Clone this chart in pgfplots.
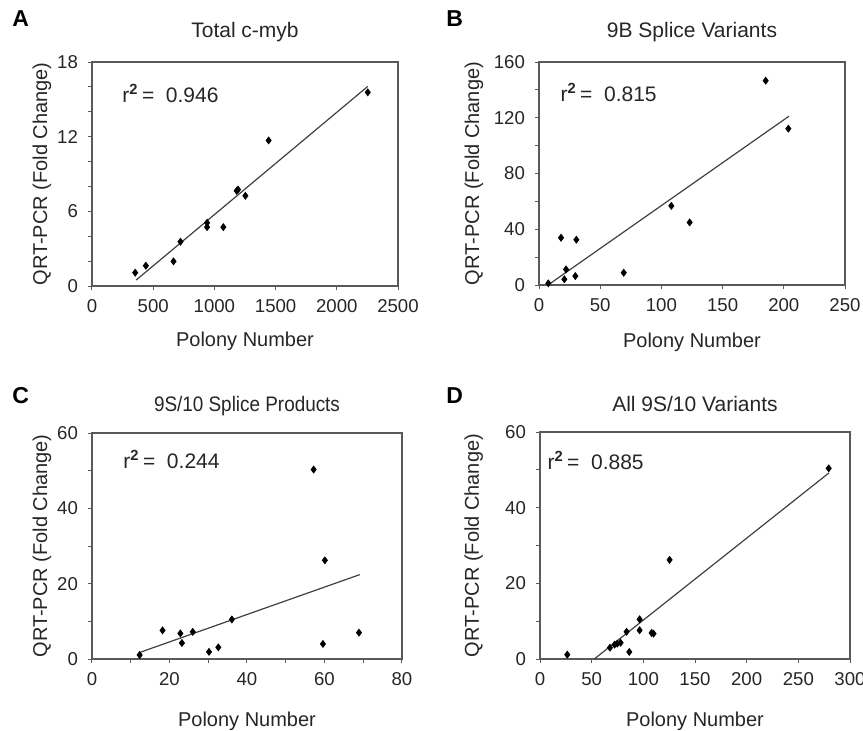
\documentclass[border=0pt]{standalone}
\usepackage{pgfplots}
\pgfplotsset{compat=1.18}
\usepackage{graphicx}
\usepackage{fontspec}
\setmainfont{Liberation Sans}
\tikzset{rr/.style={anchor=base west, inner sep=0pt, font=\fontsize{10.5}{12}\selectfont, text=black!85},
  pl/.style={anchor=base west, inner sep=0pt, font=\fontsize{11.5}{13}\selectfont\bfseries}}
\begin{document}
\begin{tikzpicture}
\useasboundingbox (0,0) rectangle (431.5pt,-365pt);
\pgfplotsset{
  myax/.style={
    scale only axis, clip=false,
    axis line style={black!65, line width=0.6pt},
    tick style={black!65, line width=0.5pt},
    major tick length=2pt, minor tick length=2pt,
    tick align=outside, tick pos=left,
    xmin=0, ymin=0,
    /pgf/number format/assume math mode=true,
    /pgf/number format/set thousands separator={},
    ticklabel style={font=\fontsize{9.3}{11}\selectfont, text=black!85},
    xticklabel style={yshift=-1pt},
    yticklabel style={xshift=-1.5pt},
    label style={font=\fontsize{10}{12}\selectfont, text=black!85},
    xlabel={Polony Number},
    ylabel={QRT-PCR (Fold Change)},
    title style={font=\fontsize{10.5}{12}\selectfont, text=black!85, at={(0.5,1)}, anchor=base},
  },
  sc/.style={only marks, mark=diamond*, mark size=1.7pt, black},
  fit/.style={black!75, line width=0.6pt, no marks},
}
% Panel A
\begin{axis}[myax, at={(46pt,-31pt)}, anchor=north west, width=153pt, height=112pt,
  xmax=2500, ymax=18, xtick={0,500,...,2500}, ytick={0,6,12,18}, minor ytick={2,4,8,10,14,16},
  title={Total c-myb}, title style={yshift=6.5pt},
  ylabel style={at={(axis description cs:-0.147,0.5)}, anchor=base},
  xlabel style={at={(axis description cs:0.5,-0.272)}, anchor=base}]
\addplot[sc] coordinates {(353,1.07) (440,1.63) (666,1.98) (723,3.56) (940,5.08) (940,4.73) (1073,4.73) (1182,7.65) (1193,7.75) (1253,7.25) (1443,11.7) (2253,15.56)};
\addplot[fit] coordinates {(361,0.48) (2253,16.04)};
\node[rr] at (axis description cs:0.098,0.821) {r\textsuperscript{\textbf{2}}\,=\ \ 0.946};
\end{axis}
% Panel B
\begin{axis}[myax, at={(269.5pt,-31pt)}, anchor=north west, width=153pt, height=111.5pt,
  xmax=250, ymax=160, xtick={0,50,...,250}, ytick={0,40,...,160}, minor ytick={20,60,100,140},
  title={9B Splice Variants}, title style={yshift=6.5pt},
  ylabel style={at={(axis description cs:-0.196,0.5)}, anchor=base},
  xlabel style={at={(axis description cs:0.5,-0.278)}, anchor=base}]
\addplot[sc] coordinates {(7.6,1.2) (18.0,33.9) (30.5,32.5) (20.7,4.1) (22.1,11.2) (29.7,6.4) (69.2,8.8) (108.1,56.8) (123.1,44.9) (185.2,146.6) (203.7,112.2)};
\addplot[fit] coordinates {(8.2,0.5) (204.2,121.1)};
\node[rr] at (axis description cs:0.069,0.821) {r\textsuperscript{\textbf{2}}\,=\ \ 0.815};
\end{axis}
% Panel C
\begin{axis}[myax, at={(46pt,-216.5pt)}, anchor=north west, width=155pt, height=113pt,
  xmax=80, ymax=60, xtick={0,20,...,80}, minor xtick={10,30,50,70}, ytick={0,20,...,60}, minor ytick={10,30,50},
  title={\scalebox{0.9}[1]{9S/10 Splice Products}}, title style={yshift=5pt},
  ylabel style={at={(axis description cs:-0.145,0.5)}, anchor=base},
  xlabel style={at={(axis description cs:0.5,-0.299)}, anchor=base}]
\addplot[sc] coordinates {(12.3,1.06) (18.2,7.6) (22.8,6.8) (23.2,4.25) (26.0,7.2) (30.2,1.9) (32.6,3.1) (36.1,10.5) (57.2,50.3) (60.1,26.2) (59.6,4.0) (68.9,7.0)};
\addplot[fit] coordinates {(12.4,1.77) (69.1,22.4)};
\node[rr] at (axis description cs:0.1,0.841) {r\textsuperscript{\textbf{2}}\,=\ \ 0.244};
\end{axis}
% Panel D
\begin{axis}[myax, at={(270pt,-216pt)}, anchor=north west, width=155pt, height=113.5pt,
  xmax=300, ymax=60, xtick={0,50,...,300}, ytick={0,20,...,60}, minor ytick={10,30,50},
  title={All 9S/10 Variants}, title style={yshift=4.5pt},
  ylabel style={at={(axis description cs:-0.197,0.5)}, anchor=base},
  xlabel style={at={(axis description cs:0.5,-0.299)}, anchor=base}]
\addplot[sc] coordinates {(26.4,1.15) (67.7,3.0) (72.2,3.8) (74.8,4.06) (78.0,4.3) (83.8,7.2) (86.4,1.86) (96.4,10.5) (96.4,7.6) (108.0,6.9) (109.9,6.7) (125.4,26.2) (279.4,50.4)};
\addplot[fit] coordinates {(52.5,0) (279.7,49.2)};
\node[rr] at (axis description cs:0.023,0.837) {r\textsuperscript{\textbf{2}}\,=\ \ 0.885};
\end{axis}
% panel letters
\node[pl] at (6pt,-13pt) {A};
\node[pl] at (223pt,-13pt) {B};
\node[pl] at (6pt,-201.5pt) {C};
\node[pl] at (223pt,-201.5pt) {D};
\end{tikzpicture}
\end{document}
